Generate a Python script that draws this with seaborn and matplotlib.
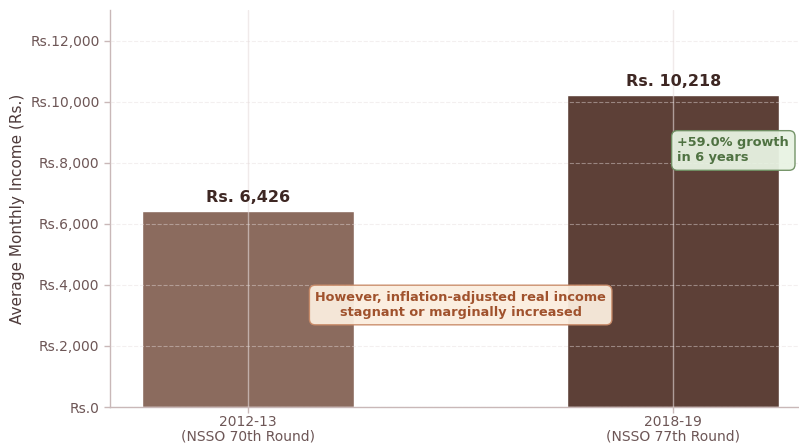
import matplotlib
matplotlib.use("Agg")
import matplotlib.pyplot as plt
import seaborn as sns
import pandas as pd
from matplotlib.ticker import FuncFormatter

# Survey rounds and average monthly income
periods = ["2012-13\n(NSSO 70th Round)", "2018-19\n(NSSO 77th Round)"]
income = [6426, 10218]
bar_colors = ["#8B6B5E", "#5D4037"]
growth_pct = 59.0
years_between = 6

sns.set_theme(style="white")
plt.rcParams["font.family"] = ["DejaVu Sans"]

df = pd.DataFrame({"period": periods, "income": income})

fig = plt.figure(figsize=(7.99, 4.44), dpi=100)
ax = fig.add_axes([0.1377, 0.0833, 0.8623, 0.8942])

sns.barplot(data=df, x="period", y="income", hue="period",
            palette=bar_colors, width=0.5, legend=False, ax=ax,
            saturation=1, zorder=1)

ax.set_xlim(-0.325, 1.296)
ax.set_ylim(0, 13000)
ax.set_yticks(range(0, 12001, 2000))
ax.yaxis.set_major_formatter(FuncFormatter(lambda v, _: f"Rs.{v:,.0f}"))

# grid on top of the bars
ax.set_axisbelow(False)
ax.yaxis.grid(True, linestyle="--", color="#e6dcdc", alpha=0.45, linewidth=0.8)
ax.xaxis.grid(True, linestyle="-", color="#e6dcdc", alpha=0.6, linewidth=1.0)

for s in ["top", "right"]:
    ax.spines[s].set_visible(False)
for s in ["left", "bottom"]:
    ax.spines[s].set_color("#c9b8b8")
    ax.spines[s].set_linewidth(1.0)

ax.tick_params(axis="both", colors="#c9b8b8", labelcolor="#6d5656",
               labelsize=10, length=4, width=1, left=True, bottom=True)
ax.tick_params(axis="x", pad=2)
for lbl in ax.get_xticklabels():
    lbl.set_linespacing(1.05)
ax.set_xlabel("")
ax.set_ylabel("Average Monthly Income (Rs.)", fontsize=11, color="#4e3b3b")

# value labels above bars
for i, v in enumerate(income):
    ax.text(i, v + 190, f"Rs. {v:,}", ha="center", va="bottom",
            fontsize=11.5, fontweight="bold", color="#3E2723")

ax.text(1.01, 8400, f"+{growth_pct:.1f}% growth\nin {years_between} years",
        ha="left", va="center", fontsize=9.3, fontweight="bold",
        color="#4F7242",
        bbox=dict(boxstyle="round,pad=0.45", facecolor="#E8F3E3",
                  edgecolor="#6E8F62", alpha=0.95))

ax.text(0.5, 3340, "However, inflation-adjusted real income\nstagnant or marginally increased",
        ha="center", va="center", fontsize=9.3, fontweight="bold",
        color="#A0522D",
        bbox=dict(boxstyle="round,pad=0.45", facecolor="#FBEEDF",
                  edgecolor="#C98A67", alpha=0.95))

fig.savefig("out.png", dpi=100)
